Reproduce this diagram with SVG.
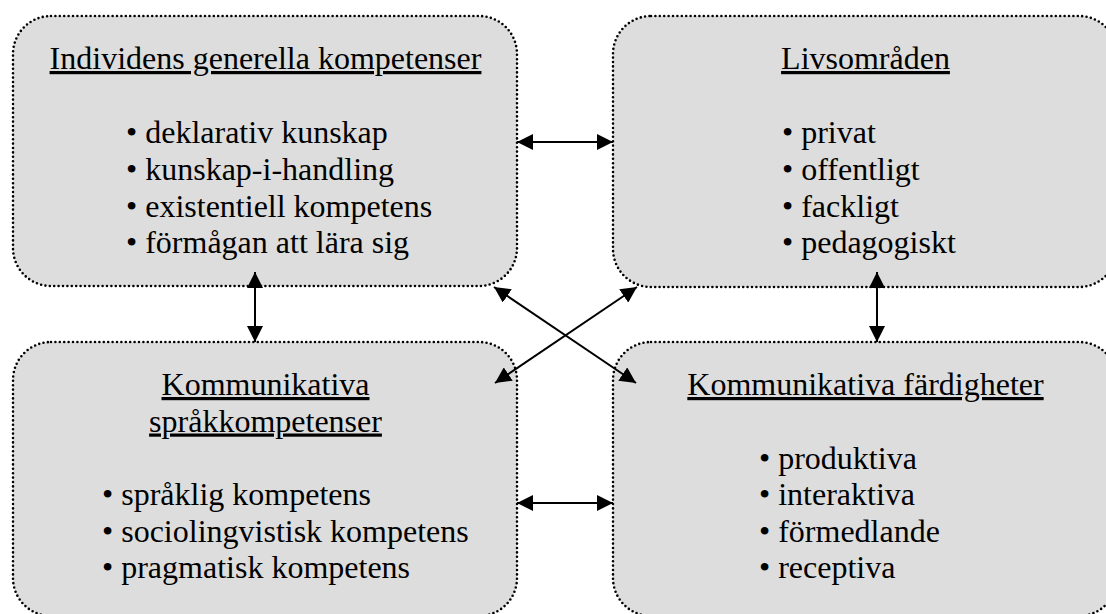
<svg xmlns="http://www.w3.org/2000/svg" width="1106" height="614" viewBox="0 0 1106 614">
  <style>
    .box { fill: #dddddd; stroke: #000; stroke-width: 2.6; stroke-dasharray: 0 4.4; stroke-linecap: round; }
    .t { font-family: "Liberation Serif", "Times New Roman", serif; font-size: 32px; fill: #000; }
    .h { text-anchor: middle; text-decoration: underline; }
    .conn { stroke: #000; stroke-width: 2; fill: none; marker-start: url(#ah); marker-end: url(#ah); }
  </style>
  <defs>
    <marker id="ah" viewBox="0 0 10 10" refX="10" refY="5" markerUnits="userSpaceOnUse" markerWidth="16" markerHeight="16" orient="auto-start-reverse">
      <path d="M0,0 L10,5 L0,10 z" fill="#000"/>
    </marker>
  </defs>
  <rect width="1106" height="614" fill="#fff"/>

  <g id="node-individens">
    <rect class="box" x="13" y="16" width="504" height="270" rx="38" ry="38"/>
    <text class="t h" x="265.5" y="69">Individens generella kompetenser</text>
    <text class="t" x="126" y="143">• deklarativ kunskap</text>
    <text class="t" x="126" y="180">• kunskap-i-handling</text>
    <text class="t" x="126" y="216.5">• existentiell kompetens</text>
    <text class="t" x="126" y="253">• förmågan att lära sig</text>
  </g>

  <g id="node-livsomraden">
    <rect class="box" x="613" y="16" width="504" height="271" rx="38" ry="38"/>
    <text class="t h" x="865.5" y="69">Livsområden</text>
    <text class="t" x="782" y="143">• privat</text>
    <text class="t" x="782" y="180">• offentligt</text>
    <text class="t" x="782" y="216.5">• fackligt</text>
    <text class="t" x="782" y="253">• pedagogiskt</text>
  </g>

  <g id="node-sprakkompetenser">
    <rect class="box" x="13" y="342" width="504" height="274" rx="38" ry="38"/>
    <text class="t h" x="265.5" y="395">Kommunikativa</text>
    <text class="t h" x="265.5" y="431.5">språkkompetenser</text>
    <text class="t" x="102" y="505">• språklig kompetens</text>
    <text class="t" x="102" y="541.5">• sociolingvistisk kompetens</text>
    <text class="t" x="102" y="578">• pragmatisk kompetens</text>
  </g>

  <g id="node-fardigheter">
    <rect class="box" x="613" y="342" width="504" height="274" rx="38" ry="38"/>
    <text class="t h" x="865.5" y="395">Kommunikativa färdigheter</text>
    <text class="t" x="759" y="468.5">• produktiva</text>
    <text class="t" x="759" y="505">• interaktiva</text>
    <text class="t" x="759" y="541.5">• förmedlande</text>
    <text class="t" x="759" y="578">• receptiva</text>
  </g>

  <g id="connectors">
    <line class="conn" x1="517" y1="142" x2="613" y2="142"/>
    <line class="conn" x1="517" y1="503" x2="613" y2="503"/>
    <line class="conn" x1="255" y1="272" x2="255" y2="342"/>
    <line class="conn" x1="877" y1="272" x2="877" y2="342"/>
    <line class="conn" x1="494" y1="287" x2="636" y2="383"/>
    <line class="conn" x1="637" y1="287" x2="495" y2="383"/>
  </g>
</svg>
